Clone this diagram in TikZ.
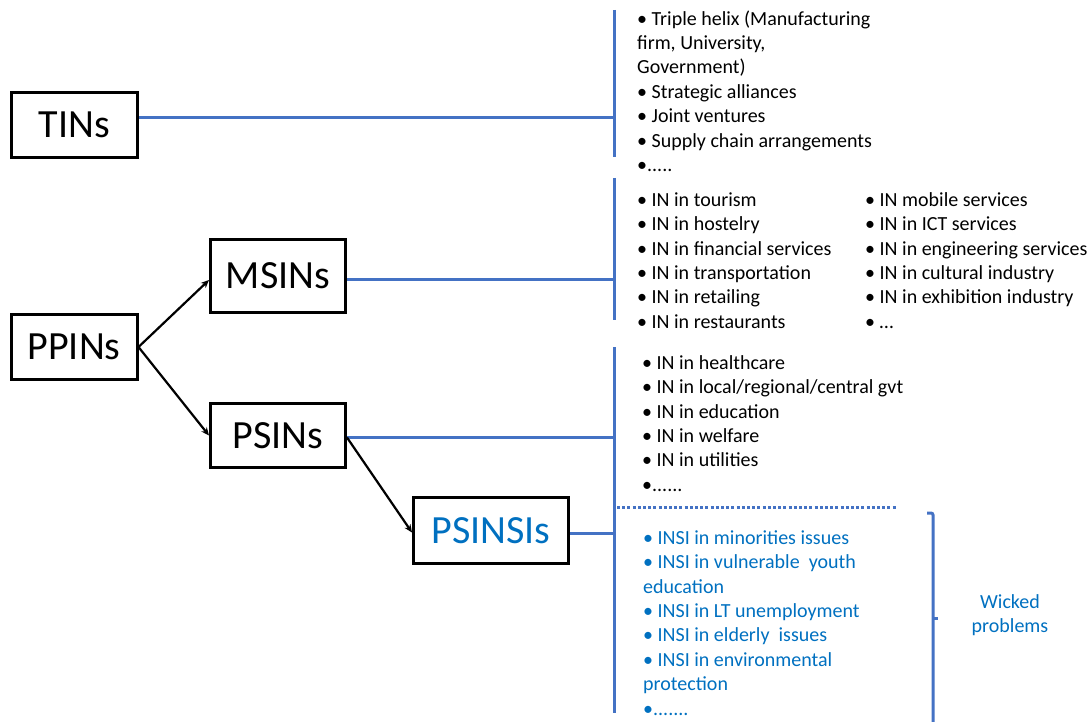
\documentclass[tikz,border=0pt]{standalone}
\usepackage{fontspec}
\setmainfont{Carlito}
\usetikzlibrary{arrows.meta}
\definecolor{lineblue}{HTML}{4472C4}
\definecolor{textblue}{HTML}{0070C0}
\newcommand{\listfont}{\fontsize{20pt}{24.4pt}\selectfont}
\newcommand{\ls}{\strut}
\begin{document}
\begin{tikzpicture}[x=1pt,y=-1pt,
  bigbox/.style={draw=black,line width=3pt,inner sep=0pt,font=\fontsize{40pt}{48pt}\selectfont},
  blueline/.style={draw=lineblue,line width=3pt},
  arr/.style={draw=black,line width=2.2pt,-{Stealth[length=8pt,width=7pt]}},
  listtext/.style={anchor=north west,inner sep=0pt,align=left,font=\listfont},
]
\useasboundingbox (0,0) rectangle (1087,722);

% boxes
\node[bigbox,minimum width=126pt,minimum height=65pt] (TINs) at (74.5,125) {TINs};
\node[bigbox,minimum width=126pt,minimum height=65pt] (PPINs) at (74,347) {PPINs};
\node[bigbox,minimum width=135pt,minimum height=73pt] (MSINs) at (278,276) {MSINs};
\node[bigbox,minimum width=135pt,minimum height=64pt] (PSINs) at (278,435.5) {PSINs};
\node[bigbox,minimum width=155pt,minimum height=66pt,text=textblue] (PSINSIs) at (491,530.5) {PSINSIs};

% vertical bars and their junction points
\coordinate (t1) at (614,10);   \coordinate (t2) at (614,157);
\coordinate (m1) at (614,178);  \coordinate (m2) at (614,320);
\coordinate (p1) at (614,347);  \coordinate (p2) at (614,713);
\coordinate (tj) at (614,118);
\coordinate (mj) at (614,279);
\coordinate (pj) at (614,437);
\coordinate (sj) at (614,533);
\draw[blueline] (t1) -- (t2);
\draw[blueline] (m1) -- (m2);
\draw[blueline] (p1) -- (p2);

\draw[blueline] (TINs.east |- tj) -- (tj);
\draw[blueline] (MSINs.east |- mj) -- (mj);
\draw[blueline] (PSINs.east |- pj) -- (pj);
\draw[blueline] (PSINSIs.east |- sj) -- (sj);

% dotted separator
\coordinate (d1) at (617,507); \coordinate (d2) at (897,507);
\draw[draw=lineblue,line width=3pt,dash pattern=on 3pt off 2.2pt] (d1) -- (d2);

% arrows
\draw[arr] (PPINs.east) -- ([yshift=-4pt]MSINs.west);
\draw[arr] (PPINs.east) -- (PSINs.west);
\draw[arr] ([yshift=-2pt]PSINs.east) -- ([yshift=-2pt]PSINSIs.west);

% bracket
\coordinate (b1) at (927,513);
\coordinate (b2) at (933,724);
\coordinate (bn) at (933,618);
\coordinate (bn2) at (938,618);
\draw[lineblue,line width=3pt,rounded corners=2pt] (b1) -- (933,513) -- (b2);
\draw[lineblue,line width=3pt] (bn) -- (bn2);

% lists
\node[listtext] (tinlist) at (637,7.92) {\ls• Triple helix (Manufacturing\\\ls firm, University,\\\ls Government)\\\ls• Strategic alliances\\\ls• Joint ventures\\\ls• Supply chain arrangements\\\ls•.....};

\node[listtext] (mslistA) at (637,188.92) {\ls• IN in tourism\\\ls• IN in hostelry\\\ls• IN in financial services\\\ls• IN in transportation\\\ls• IN in retailing\\\ls• IN in restaurants};

\node[listtext] (mslistB) at (865,188.92) {\ls• IN mobile services\\\ls• IN in ICT services\\\ls• IN in engineering services\\\ls• IN in cultural industry\\\ls• IN in exhibition industry\\\ls• …};

\node[listtext] (pslist) at (642,351.92) {\ls• IN in healthcare\\\ls• IN in local/regional/central gvt\\\ls• IN in education\\\ls• IN in welfare\\\ls• IN in utilities\\\ls•......};

\node[listtext,text=textblue] (insilist) at (643,526.92) {\ls• INSI in minorities issues\\\ls• INSI in vulnerable\ \ youth\\\ls education\\\ls• INSI in LT unemployment\\\ls• INSI in elderly\ \ issues\\\ls• INSI in environmental\\\ls protection\\\ls•.......};

\node[anchor=north,inner sep=0pt,align=center,font=\listfont,text=textblue] (wicked) at (1010,590.92) {\ls Wicked\\\ls problems};
\end{tikzpicture}
\end{document}
